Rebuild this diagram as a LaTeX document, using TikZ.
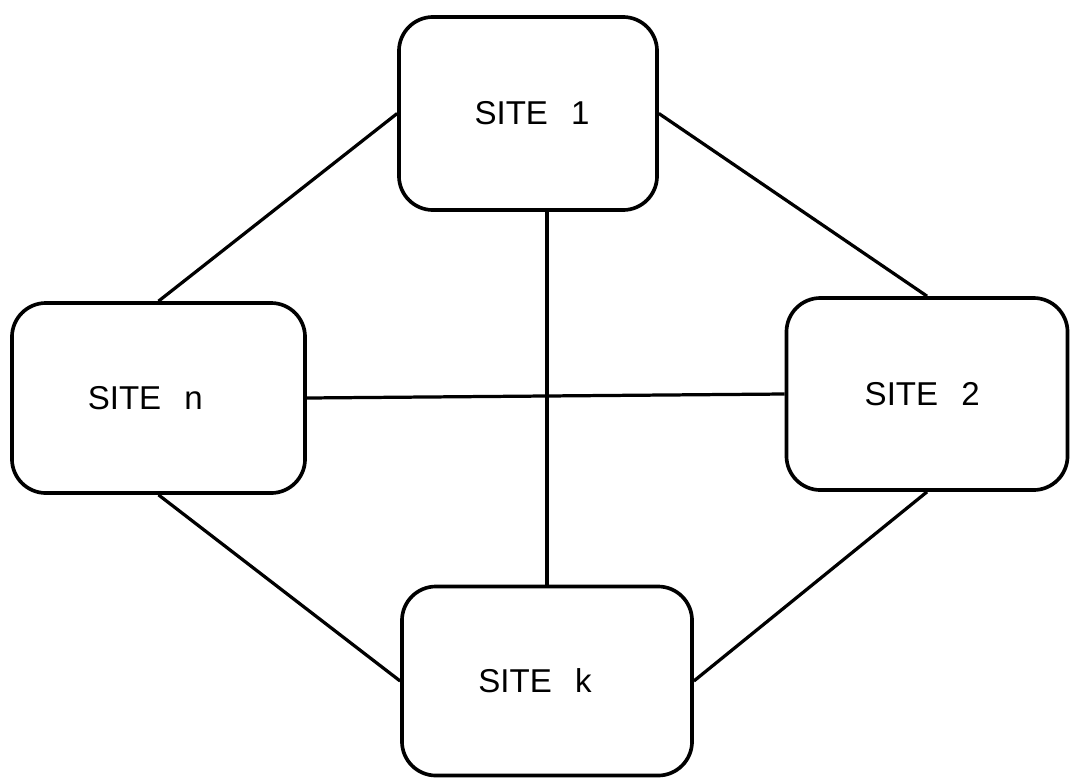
\documentclass[tikz,border=0pt]{standalone}
\usepackage{fontspec}
\setmainfont{Liberation Sans}
\begin{document}
\begin{tikzpicture}[x=0.025cm,y=-0.025cm,
  site/.style={draw, line width=2.6pt, rounded corners=0.85cm, inner sep=0pt},
  sitename/.style={inner sep=0pt, font=\fontsize{23.5}{28}\selectfont},
  link/.style={line width=2.3pt}]
\useasboundingbox (0,0) rectangle (1070,777);
% the four sites
\node[site, minimum width=6.45cm, minimum height=4.825cm] (s1) at (528,113.5) {};
\node[site, minimum width=7.325cm, minimum height=4.75cm] (sn) at (158.5,398) {};
\node[site, minimum width=7.025cm, minimum height=4.8cm] (s2) at (927,394) {};
\node[site, minimum width=7.25cm, minimum height=4.725cm] (sk) at (547,681) {};
% their names, set a little off centre
\node[sitename, xshift=0.1cm] (t1) at (s1.center) {SITE\hspace{0.7em}1};
\node[sitename, xshift=-0.33cm] (tn) at (sn.center) {SITE\hspace{0.7em}n};
\node[sitename, xshift=-0.12cm] (t2) at (s2.center) {SITE\hspace{0.7em}2};
\node[sitename, xshift=-0.3cm] (tk) at (sk.center) {SITE\hspace{0.7em}k};
% links between sites
\draw[link] (s1.west) -- (sn.north);
\draw[link] (s1.east) -- (s2.north);
\draw[link] (sn.south) -- (sk.west);
\draw[link] (s2.south) -- (sk.east);
\draw[link] (sk.north) -- (sk.north |- s1.south);
\draw[link] (sn.east) -- (s2.west);
\end{tikzpicture}
\end{document}
